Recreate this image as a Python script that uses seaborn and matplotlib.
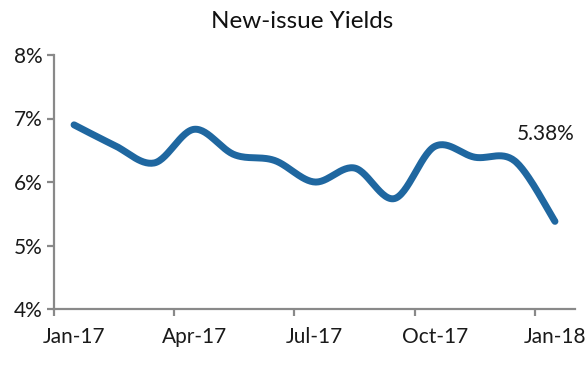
import numpy as np
import pandas as pd
import matplotlib
matplotlib.use("Agg")
import matplotlib.pyplot as plt
import seaborn as sns

months = ["Jan-17", "Feb-17", "Mar-17", "Apr-17", "May-17", "Jun-17", "Jul-17",
          "Aug-17", "Sep-17", "Oct-17", "Nov-17", "Dec-17", "Jan-18"]
yields = [6.90, 6.58, 6.30, 6.83, 6.43, 6.34, 6.00, 6.22, 5.74, 6.56, 6.39, 6.33, 5.38]
tick_labels = ["Jan-17", "Apr-17", "Jul-17", "Oct-17", "Jan-18"]
y_ticks = [4, 5, 6, 7, 8]
title = "New-issue Yields"
end_label = "5.38%"

sns.set_theme(style="white")
plt.rcParams["font.family"] = ["Lato", "DejaVu Sans"]

df = pd.DataFrame({"idx": np.arange(len(months)), "month": months, "yield": yields})

# Excel-like smoothing (Catmull-Rom / cubic Bezier through each point)
def smooth(x, y, n=30):
    x = np.asarray(x, float); y = np.asarray(y, float)
    px = np.concatenate([[x[0]], x, [x[-1]]])
    py = np.concatenate([[y[0]], y, [y[-1]]])
    xs, ys = [], []
    for i in range(1, len(px) - 2):
        p0 = np.array([px[i], py[i]]); p3 = np.array([px[i + 1], py[i + 1]])
        p1 = p0 + (np.array([px[i + 1], py[i + 1]]) - np.array([px[i - 1], py[i - 1]])) / 6
        p2 = p3 - (np.array([px[i + 2], py[i + 2]]) - np.array([px[i], py[i]])) / 6
        t = np.linspace(0, 1, n, endpoint=(i == len(px) - 3))[:, None]
        pts = (1 - t) ** 3 * p0 + 3 * (1 - t) ** 2 * t * p1 + 3 * (1 - t) * t ** 2 * p2 + t ** 3 * p3
        xs.append(pts[:, 0]); ys.append(pts[:, 1])
    return np.concatenate(xs), np.concatenate(ys)

sx, sy = smooth(df["idx"], df["yield"])
curve = pd.DataFrame({"x": sx, "y": sy})

fig = plt.figure(figsize=(5.88, 3.69), dpi=100)
ax = fig.add_axes([54 / 588, 1 - 309 / 369, (575 - 54) / 588, (309 - 55) / 369])

line_color = "#1F67A0"
sns.lineplot(data=curve, x="x", y="y", ax=ax, color=line_color, linewidth=5.0,
             solid_capstyle="round", sort=False, estimator=None)

ax.set_xlim(-0.5, len(months) - 0.5)
ax.set_ylim(4, 8)

axis_gray = "#898989"
for s in ["top", "right"]:
    ax.spines[s].set_visible(False)
for s in ["left", "bottom"]:
    ax.spines[s].set_color(axis_gray)
    ax.spines[s].set_linewidth(1.6)

ax.set_yticks(y_ticks)
ax.set_yticklabels([f"{v}%" for v in y_ticks], fontsize=15, color="#1a1a1a")
label_pos = [months.index(m) for m in tick_labels]
ax.set_xticks([p - 0.5 for p in label_pos])
ax.set_xticklabels([])
ax.set_xticks(label_pos, minor=True)
ax.set_xticklabels(tick_labels, minor=True, fontsize=15, color="#1a1a1a")
ax.tick_params(axis="x", which="major", direction="out", length=5, width=1.6, color=axis_gray, bottom=True)
ax.tick_params(axis="x", which="minor", length=0, pad=13, bottom=True)
ax.tick_params(axis="y", direction="out", length=5, width=1.6, color=axis_gray, pad=3, left=True)
ax.set_xlabel("")
ax.set_ylabel("")

ax.annotate(end_label, xy=(df["idx"].iloc[-1], df["yield"].iloc[-1]), xycoords="data",
            xytext=(546, 369 - 134), textcoords="figure pixels",
            ha="center", va="center", fontsize=15, color="#1a1a1a")

fig.text(302 / 588, 1 - 22 / 369, title, ha="center", va="center", fontsize=17.5, color="#111111")

fig.savefig("out.png", dpi=100)
